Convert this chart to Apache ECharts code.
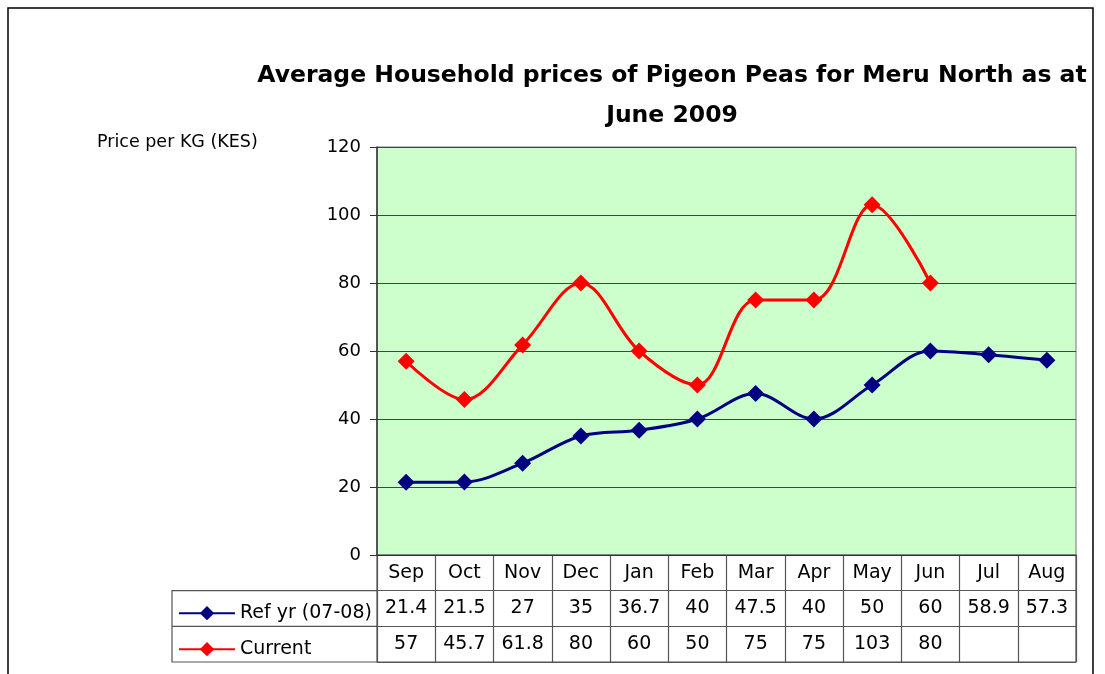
<!DOCTYPE html>
<html>
<head>
<meta charset="utf-8">
<script src="https://cdn.jsdelivr.net/npm/echarts@6/dist/echarts.min.js"></script>
<style>
  html, body { margin: 0; padding: 0; background: #fff; }
  #main { width: 1105px; height: 674px; }
</style>
</head>
<body>
<div id="main"></div>
<script>
var months = ['Sep', 'Oct', 'Nov', 'Dec', 'Jan', 'Feb', 'Mar', 'Apr', 'May', 'Jun', 'Jul', 'Aug'];
var refYear = [21.4, 21.5, 27, 35, 36.7, 40, 47.5, 40, 50, 60, 58.9, 57.3];
var current = [57, 45.7, 61.8, 80, 60, 50, 75, 75, 103, 80, null, null];
var yTicks = { min: 0, max: 120, interval: 20 };
var seriesNames = ['Ref yr (07-08)', 'Current'];
var rows = ['months', 'ref', 'current'];

// table cells built from the arrays above
var cells = [];
months.forEach(function (m, i) {
    cells.push([i, 0, m]);
    cells.push([i, 1, refYear[i] == null ? '' : String(refYear[i])]);
    cells.push([i, 2, current[i] == null ? '' : String(current[i])]);
});

var plotLeft = 377, plotRight = 29, plotTop = 147, plotBottom = 555;
var tableBottom = 662;
var rowH = (tableBottom - plotBottom) / 3;
var legendLeft = 172;
var textFont = 'DejaVu Sans';

var chart = echarts.init(document.getElementById('main'));

var option = {
    animation: false,
    backgroundColor: '#fff',
    title: {
        text: 'Average Household prices of Pigeon Peas for Meru North as at\nJune 2009',
        left: 667,
        top: 51,
        textAlign: 'center',
        textStyle: {
            fontFamily: 'DejaVu Sans',
            fontWeight: 'bold',
            fontSize: 23.5,
            lineHeight: 40,
            color: '#000'
        }
    },
    legend: {
        orient: 'vertical',
        left: legendLeft + 1,
        top: plotBottom + rowH + 8,
        itemWidth: 56,
        itemHeight: 18,
        itemGap: 17,
        data: seriesNames,
        textStyle: { fontFamily: textFont, fontSize: 19, color: '#000' }
    },
    grid: [
        {
            left: plotLeft, right: plotRight, top: plotTop, height: plotBottom - plotTop,
            show: true, backgroundColor: '#CCFFCC', borderColor: '#777', borderWidth: 1
        },
        {
            left: plotLeft, right: plotRight, top: plotBottom, height: tableBottom - plotBottom,
            show: true, backgroundColor: '#fff', borderColor: '#555', borderWidth: 1.2
        }
    ],
    xAxis: [
        {
            gridIndex: 0,
            type: 'category',
            data: months,
            boundaryGap: true,
            axisLine: { show: true, lineStyle: { color: '#333', width: 1 } },
            axisTick: { show: false },
            axisLabel: { show: false },
            splitLine: { show: false }
        },
        {
            gridIndex: 1,
            type: 'category',
            data: months,
            boundaryGap: true,
            position: 'top',
            axisLine: { show: false },
            axisTick: { show: false },
            axisLabel: { show: false },
            splitLine: { show: true, lineStyle: { color: '#555', width: 1.2 } }
        }
    ],
    yAxis: [
        {
            gridIndex: 0,
            type: 'value',
            min: yTicks.min,
            max: yTicks.max,
            interval: yTicks.interval,
            axisLine: { show: true, lineStyle: { color: '#333', width: 1.5 } },
            axisTick: { show: true, length: 7, lineStyle: { color: '#333' } },
            axisLabel: { margin: 16, fontFamily: textFont, fontSize: 18, color: '#000' },
            splitLine: { show: true, lineStyle: { color: '#444', width: 1.2 } }
        },
        {
            gridIndex: 1,
            type: 'category',
            data: rows,
            inverse: true,
            boundaryGap: true,
            axisLine: { show: false },
            axisTick: { show: false },
            axisLabel: { show: false },
            splitLine: { show: true, lineStyle: { color: '#555', width: 1.2 } }
        }
    ],
    series: [
        {
            name: seriesNames[0],
            type: 'line',
            data: refYear,
            smooth: 0.35,
            symbol: 'diamond',
            symbolSize: 17,
            lineStyle: { color: '#000080', width: 3 },
            itemStyle: { color: '#000080' }
        },
        {
            name: seriesNames[1],
            type: 'line',
            data: current,
            smooth: 0.35,
            symbol: 'diamond',
            symbolSize: 17,
            lineStyle: { color: '#FF0000', width: 3 },
            itemStyle: { color: '#FF0000' }
        },
        {
            type: 'custom',
            xAxisIndex: 1,
            yAxisIndex: 1,
            silent: true,
            data: cells.map(function (c) { return [c[0], c[1]]; }),
            renderItem: function (params, api) {
                var p = api.coord([api.value(0), api.value(1)]);
                return {
                    type: 'text',
                    x: p[0],
                    y: p[1],
                    style: {
                        text: cells[params.dataIndex][2],
                        fontFamily: textFont,
                        fontSize: 19,
                        fill: '#000',
                        align: 'center',
                        verticalAlign: 'middle'
                    }
                };
            }
        }
    ],
    graphic: [
        {
            type: 'rect',
            shape: { x: 8, y: 8, width: 1085, height: 700 },
            style: { fill: 'none', stroke: '#000', lineWidth: 1.5 },
            silent: true
        },
        {
            type: 'text',
            left: 97,
            top: 133,
            style: { text: 'Price per KG (KES)', fontFamily: textFont, fontSize: 17.5, fill: '#000' }
        },
        {
            type: 'polyline',
            shape: { points: [[plotLeft, plotBottom + rowH], [legendLeft, plotBottom + rowH], [legendLeft, tableBottom], [plotLeft, tableBottom]] },
            style: { fill: 'none', stroke: '#555', lineWidth: 1.2 },
            silent: true
        },
        {
            type: 'line',
            shape: { x1: legendLeft, y1: plotBottom + 2 * rowH, x2: plotLeft, y2: plotBottom + 2 * rowH },
            style: { stroke: '#555', lineWidth: 1.2 },
            silent: true
        }
    ]
};

chart.setOption(option);
</script>
</body>
</html>
